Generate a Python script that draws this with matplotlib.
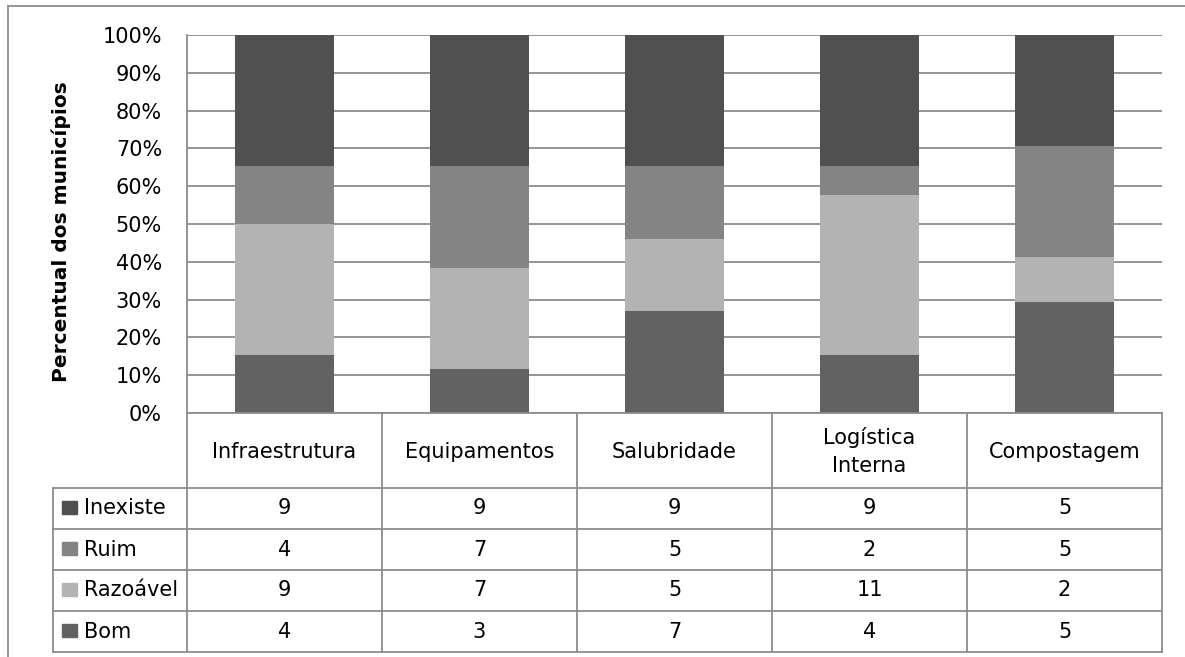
import numpy as np
import matplotlib
matplotlib.use("Agg")
import matplotlib.pyplot as plt
from matplotlib.patches import Rectangle

plt.rcParams['font.family'] = ['DejaVu Sans']

# dados (número de municípios)
categorias = ['Infraestrutura', 'Equipamentos', 'Salubridade', 'Logística\nInterna', 'Compostagem']
series = ['Bom', 'Razoável', 'Ruim', 'Inexiste']
bom = [4, 3, 7, 4, 5]
razoavel = [9, 7, 5, 11, 2]
ruim = [4, 7, 5, 2, 5]
inexiste = [9, 9, 9, 9, 5]
cores = {'Bom': '#626262', 'Razoável': '#b3b3b3', 'Ruim': '#848484', 'Inexiste': '#505050'}
yticks = [0, 10, 20, 30, 40, 50, 60, 70, 80, 90, 100]

W, H = 1185, 657
FS = 15
GRID = '#8c8c8c'

valores = {'Bom': bom, 'Razoável': razoavel, 'Ruim': ruim, 'Inexiste': inexiste}
total = np.array(bom) + np.array(razoavel) + np.array(ruim) + np.array(inexiste)

fig = plt.figure(figsize=(W / 100, H / 100), dpi=100)

# area do grafico em pixels
x0, x1, ytop, ybot = 187, 1162, 35, 413
ax = fig.add_axes([x0 / W, 1 - ybot / H, (x1 - x0) / W, (ybot - ytop) / H])

x = np.arange(len(categorias))
base = np.zeros(len(categorias))
for s in series:
    pct = np.array(valores[s]) / total * 100
    ax.bar(x, pct, bottom=base, width=0.51, color=cores[s], zorder=3)
    base += pct

ax.set_xlim(-0.5, len(categorias) - 0.5)
ax.set_ylim(0, 100)
ax.set_yticks(yticks)
ax.set_yticklabels([f'{v}%' for v in yticks], fontsize=FS)
ax.yaxis.grid(True, color=GRID, linewidth=1.3, zorder=0)
ax.tick_params(axis='y', length=0, pad=18)
ax.set_xticks([])
for sp in ['top', 'right', 'bottom']:
    ax.spines[sp].set_visible(False)
ax.spines['left'].set_color(GRID)
ax.spines['left'].set_linewidth(1.3)

# tabela de dados desenhada numa camada por cima (coordenadas em pixels)
ov = fig.add_axes([0, 0, 1, 1], zorder=5)
ov.set_xlim(0, W)
ov.set_ylim(H, 0)
ov.axis('off')
ov.patch.set_alpha(0)

ov.text(61, 232, 'Percentual dos municípios', rotation=90, ha='center', va='center',
        fontsize=14.5, fontweight='bold')

lw = 1.3
# moldura externa
ov.plot([8, 8], [6, H], color=GRID, lw=lw)
ov.plot([8, W], [6, 6], color=GRID, lw=lw)

ncol = len(categorias)
cw = (x1 - x0) / ncol
linhas_y = [488, 529, 570, 611, 652]
xleg = 53

ov.plot([x0, x1], [ybot, ybot], color=GRID, lw=lw)
for yy in linhas_y:
    ov.plot([xleg, x1], [yy, yy], color=GRID, lw=lw)
for i in range(ncol + 1):
    xx = x0 + i * cw
    ov.plot([xx, xx], [ybot, linhas_y[-1]], color=GRID, lw=lw)
ov.plot([xleg, xleg], [linhas_y[0], linhas_y[-1]], color=GRID, lw=lw)

for i, c in enumerate(categorias):
    ov.text(x0 + (i + 0.5) * cw, (ybot + linhas_y[0]) / 2 + 1, c, ha='center', va='center',
            fontsize=FS, linespacing=1.55)

ordem = ['Inexiste', 'Ruim', 'Razoável', 'Bom']
for r, s in enumerate(ordem):
    yc = (linhas_y[r] + linhas_y[r + 1]) / 2
    ov.add_patch(Rectangle((62, yc - 7.5), 15, 13, color=cores[s]))
    ov.text(84, yc, s, ha='left', va='center', fontsize=FS)
    for i, v in enumerate(valores[s]):
        ov.text(x0 + (i + 0.5) * cw, yc, str(v), ha='center', va='center', fontsize=FS)

fig.savefig('out.png', dpi=100)
